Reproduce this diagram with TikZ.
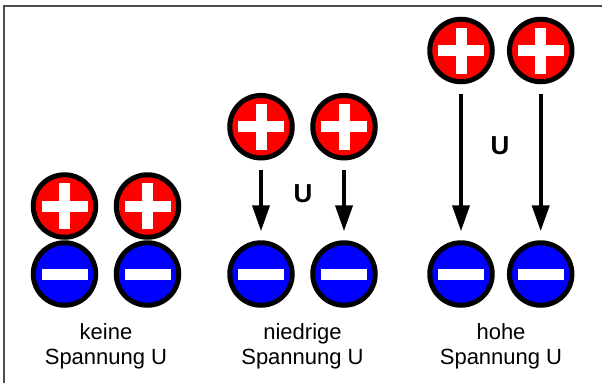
\documentclass[tikz,border=0pt]{standalone}
\usepackage{fontspec}
\setmainfont{Liberation Sans}
\usetikzlibrary{arrows.meta}
\begin{document}
\begin{tikzpicture}[x=1pt,y=-1pt,
  charge/.style={circle,draw=black,line width=5pt,minimum size=62.5pt,inner sep=0pt},
  plus/.style={charge,fill=red,
    path picture={
      \fill[white] ([xshift=-23pt,yshift=-5.5pt]path picture bounding box.center) rectangle ([xshift=23pt,yshift=5.5pt]path picture bounding box.center);
      \fill[white] ([xshift=-5.5pt,yshift=-23pt]path picture bounding box.center) rectangle ([xshift=5.5pt,yshift=23pt]path picture bounding box.center);}},
  minus/.style={charge,fill=blue,
    path picture={
      \fill[white] ([xshift=-23pt,yshift=-5.5pt]path picture bounding box.center) rectangle ([xshift=23pt,yshift=5.5pt]path picture bounding box.center);}},
  volt/.style={line width=4pt,-{Triangle[length=26pt,width=17pt]},shorten <=10pt,shorten >=9pt},
  ulabel/.style={font=\fontsize{26}{30}\selectfont\bfseries},
  caption/.style={align=center,font=\fontsize{22}{25}\selectfont}]

  \useasboundingbox (0,0) rectangle (602,383);
%frame
  \draw[line width=1.5pt,black!70] (4,383) -- (4,6) -- (602,6);

%no voltage
  \foreach \x/\n in {64.5/1,147.5/2} {
    \node[plus] (pa\n) at (\x,206) {};
    \node[minus] (ma\n) at (\x,274) {}; }
  \node[caption] (ca) at (106,346) {keine\\Spannung U};

%low voltage
  \foreach \x/\n in {261/1,344/2} {
    \node[plus] (pb\n) at (\x,126.7) {};
    \node[minus] (mb\n) at (\x,274) {};
    \draw[volt] (pb\n) -- (mb\n); }
  \node[ulabel] (ub) at (303,194) {U};
  \node[caption] (cb) at (302.5,346) {niedrige\\Spannung U};

%high voltage
  \foreach \x/\n in {461/1,540.7/2} {
    \node[plus] (pc\n) at (\x,50.5) {};
    \node[minus] (mc\n) at (\x,274) {};
    \draw[volt] (pc\n) -- (mc\n); }
  \node[ulabel] (uc) at (500,146) {U};
  \node[caption] (cc) at (501,346) {hohe\\Spannung U};

\end{tikzpicture}
\end{document}
